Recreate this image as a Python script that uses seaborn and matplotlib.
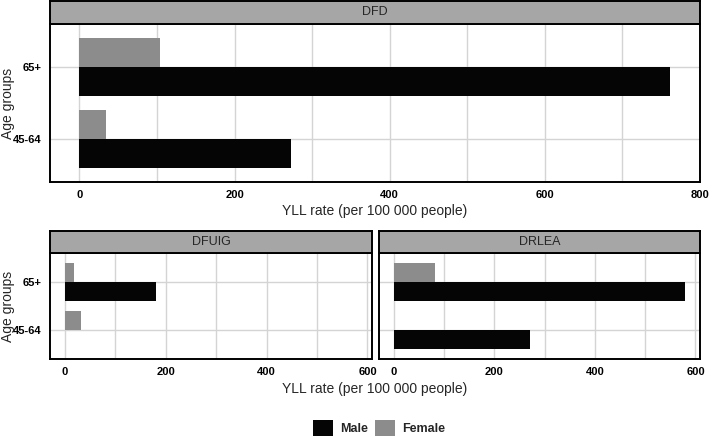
import numpy as np
import pandas as pd
import matplotlib
matplotlib.use("Agg")
import matplotlib.pyplot as plt
from matplotlib.ticker import MultipleLocator
from matplotlib.patches import Patch
import seaborn as sns

# values
AGE = ["65+", "45-64"]
SEX = ["Male", "Female"]
DFD_MALE = [761, 273]
DFD_FEMALE = [104, 34]
DFUIG_MALE = [181, np.nan]
DFUIG_FEMALE = [18, 32]
DRLEA_MALE = [580, 272]
DRLEA_FEMALE = [83, np.nan]

MALE_COL = "#050505"
FEMALE_COL = "#8c8c8c"
STRIP_COL = "#a6a6a6"
GRID_COL = "#d4d4d4"

sns.set_style("white")
plt.rcParams["font.family"] = ["Liberation Sans", "DejaVu Sans"]


def long_df(male, female):
    rows = []
    for a, m, f in zip(AGE, male, female):
        rows.append({"Age": a, "Sex": "Male", "YLL": m})
        rows.append({"Age": a, "Sex": "Female", "YLL": f})
    return pd.DataFrame(rows)


def panel(fig, rect, strip_h, title, df, xlim, xmax_tick):
    ax = fig.add_axes(rect)
    sns.barplot(data=df, y="Age", x="YLL", hue="Sex", order=AGE,
                hue_order=["Female", "Male"],
                palette={"Male": MALE_COL, "Female": FEMALE_COL},
                width=0.8, linewidth=0, ax=ax, legend=False, errorbar=None)
    ax.set_xlim(*xlim)
    ax.set_ylim(1.6, -0.6)
    ax.xaxis.set_minor_locator(MultipleLocator(100))
    ax.set_xticks(np.arange(0, xmax_tick + 1, 200))
    ax.grid(True, which="both", axis="x", color=GRID_COL, lw=1)
    ax.grid(True, which="major", axis="y", color=GRID_COL, lw=1)
    ax.set_axisbelow(True)
    ax.tick_params(axis="both", which="major", length=4, width=0.8,
                   color="#333333", labelsize=8, pad=2, labelcolor="black")
    ax.tick_params(axis="x", which="minor", length=0)
    for lab in ax.get_xticklabels() + ax.get_yticklabels():
        lab.set_fontweight("bold")
    for s in ax.spines.values():
        s.set_color("black")
        s.set_linewidth(1.4)
    ax.set_xlabel("")
    ax.set_ylabel("")
    # facet strip
    x0, y0, w, h = rect
    sax = fig.add_axes([x0, y0 + h, w, strip_h])
    sax.set_facecolor(STRIP_COL)
    sax.set_xticks([])
    sax.set_yticks([])
    for s in sax.spines.values():
        s.set_color("black")
        s.set_linewidth(1.4)
    sax.text(0.5, 0.5, title, ha="center", va="center", fontsize=9,
             transform=sax.transAxes)
    return ax


W, H = 709, 440
fig = plt.figure(figsize=(W / 100, H / 100), dpi=100)

ax1 = panel(fig, [50 / W, 1 - 182 / H, 650 / W, 158 / H], 23 / H, "DFD",
            long_df(DFD_MALE, DFD_FEMALE), (-38, 800), 800)
ax2 = panel(fig, [50 / W, 1 - 359 / H, 322 / W, 106 / H], 22 / H, "DFUIG",
            long_df(DFUIG_MALE, DFUIG_FEMALE), (-29, 609), 600)
ax3 = panel(fig, [379 / W, 1 - 359 / H, 321 / W, 106 / H], 22 / H, "DRLEA",
            long_df(DRLEA_MALE, DRLEA_FEMALE), (-29, 609), 600)
ax3.set_yticklabels([])

fig.text(375 / W, 1 - 211 / H, "YLL rate (per 100 000 people)",
         ha="center", va="center", fontsize=10)
fig.text(375 / W, 1 - 389 / H, "YLL rate (per 100 000 people)",
         ha="center", va="center", fontsize=10)
fig.text(8 / W, 1 - 103 / H, "Age groups", rotation=90,
         ha="center", va="center", fontsize=10)
fig.text(8 / W, 1 - 306 / H, "Age groups", rotation=90,
         ha="center", va="center", fontsize=10)

handles = [Patch(facecolor=MALE_COL, edgecolor="none", label="Male"),
           Patch(facecolor=FEMALE_COL, edgecolor="none", label="Female")]
fig.legend(handles=handles, loc="center", bbox_to_anchor=(379 / W, 1 - 428 / H),
           ncol=2, frameon=False, handlelength=1.6, handleheight=1.6,
           columnspacing=0.5, handletextpad=0.6, borderpad=0,
           prop={"weight": "bold", "size": 9})

fig.savefig("out.png", dpi=100)
